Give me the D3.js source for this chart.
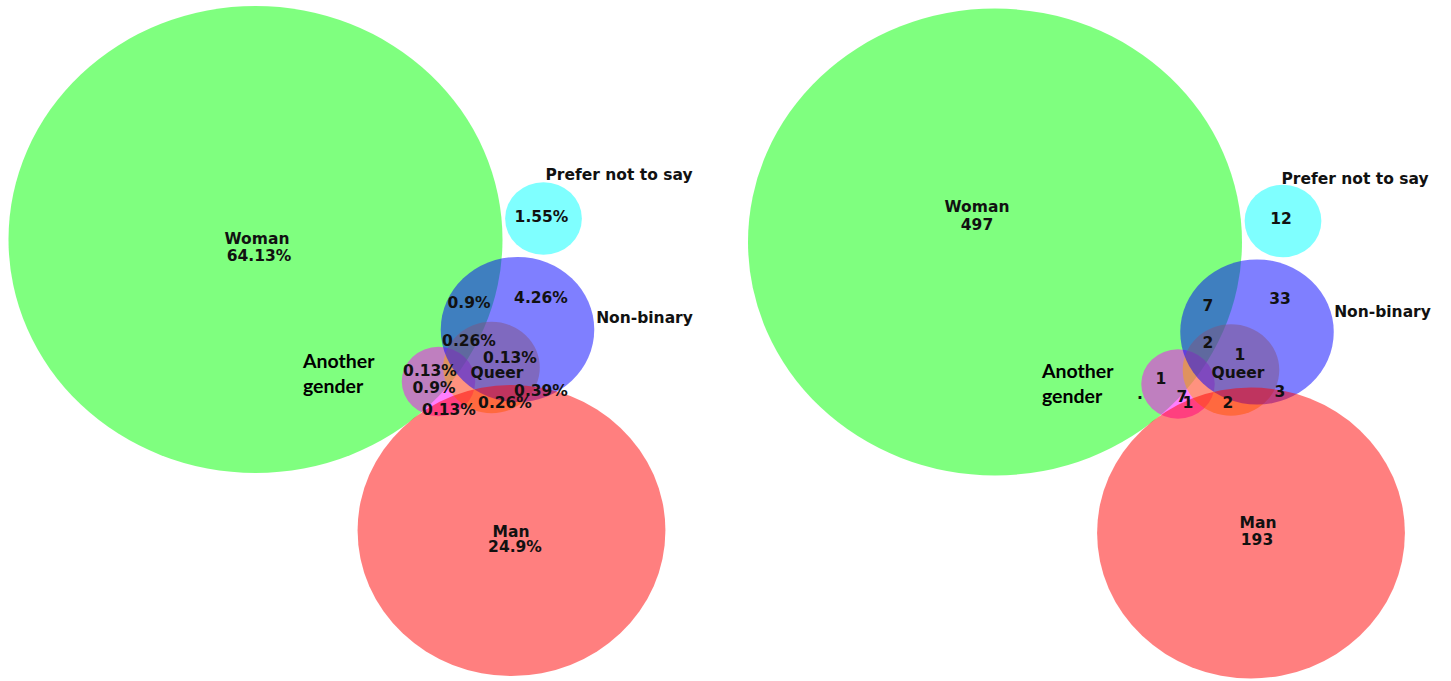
<!DOCTYPE html>
<html>
<head>
<meta charset="utf-8">
<script src="https://cdn.jsdelivr.net/npm/d3@7"></script>
<style>
  body { margin: 0; background: #fff; }
  svg { display: block; }
  .lbl { font-family: "DejaVu Sans", Verdana, sans-serif; font-weight: bold; font-size: 15.5px; fill: #111; }
  .big { font-family: Lato, "Open Sans", sans-serif; font-weight: bold; font-size: 19.5px; fill: #000; }
</style>
</head>
<body>
<svg id="venn" width="1451" height="681"></svg>
<script>
// sets, drawn in this order
var sets = ["Woman", "Another gender", "Queer", "Non-binary", "Man", "Prefer not to say"];
var set_sizes = [497, 11, 19, 48, 193, 12];
var set_colors = ["#00ff00", "#ff00ff", "#ffa500", "#0000ff", "#ff0000", "#00ffff"];
// circle centres, offset from the Woman centre (layout units)
var set_dx = [0, 183, 236, 262, 256, 288];
var set_dy = [0, 142, 128, 90, 291, -21];

// region labels (percent chart / count chart)
var regions = ["Woman", "Man", "Prefer not to say", "Non-binary", "Another gender",
    "Woman+Non-binary", "Woman+Non-binary+Queer", "Non-binary+Queer", "Another+Woman+Queer",
    "Non-binary+Man", "Queer+Man", "Another+Man"];
var region_pct = ["64.13%", "24.9%", "1.55%", "4.26%", "0.13%",
    "0.9%", "0.26%", "0.13%", "0.9%", "0.39%", "0.26%", "0.13%"];
var region_count = ["497", "193", "12", "33", "1",
    "7", "2", "1", "7", "3", "2", "1"];

// label offsets from the Woman centre, per panel
var left_lx = [3.5, 259.5, 286, 285.5, 174.5, 213.5, 213.5, 254.5, 178.5, 285.5, 249.5, 193.5];
var left_ly = [21.5, 312.5, -17.5, 63.5, 136.5, 68.5, 106.5, 123.5, 153.5, 156.5, 168.5, 175.5];
var right_lx = [-18, 262, 286, 285, 166, 213, 213, 245, 187, 285, 233, 193];
var right_ly = [-12, 303, -18, 62, 142, 69, 106, 118, 160, 155, 166, 166];

// set names
var name_sets = ["Woman", "Man", "Prefer not to say", "Non-binary", "Queer"];
var left_nx = [1.5, 255.5, 363.5, 389, 241.5];
var left_ny = [4.5, 297.5, -59.5, 83.5, 138.5];
var right_nx = [-18, 263, 360, 387.5, 243];
var right_ny = [-30, 286, -58, 75, 136];

var svg = d3.select("#venn");
var rscale = d3.scaleSqrt().domain([0, 497]).range([0, 247]);
var squash = 0.945;

function draw_panel(ox, oy, labels, lx, ly, nx, ny, another_pos, extra) {
    var xscale = d3.scaleLinear().domain([0, 1]).range([ox, ox + 1]);
    var yscale = d3.scaleLinear().domain([0, 1]).range([oy, oy + 1]);
    var g = svg.append("g");

    g.selectAll("ellipse")
        .data(sets)
        .enter().append("ellipse")
        .attr("cx", function(d, i) { return xscale(set_dx[i]); })
        .attr("cy", function(d, i) { return yscale(set_dy[i]); })
        .attr("rx", function(d, i) { return rscale(set_sizes[i]); })
        .attr("ry", function(d, i) { return rscale(set_sizes[i]) * squash; })
        .attr("fill", function(d, i) { return set_colors[i]; })
        .attr("fill-opacity", 0.5);

    g.selectAll("text.name")
        .data(name_sets)
        .enter().append("text")
        .attr("class", "lbl name")
        .attr("text-anchor", "middle")
        .attr("x", function(d, i) { return xscale(nx[i]); })
        .attr("y", function(d, i) { return yscale(ny[i]); })
        .text(function(d) { return d; });

    g.selectAll("text.val")
        .data(labels)
        .enter().append("text")
        .attr("class", "lbl val")
        .attr("text-anchor", "middle")
        .attr("x", function(d, i) { return xscale(lx[i]); })
        .attr("y", function(d, i) { return yscale(ly[i]); })
        .text(function(d) { return d; });

    var ag = g.append("text")
        .attr("class", "big")
        .attr("x", xscale(another_pos[0]))
        .attr("y", yscale(another_pos[1]));
    ag.append("tspan").text("Another");
    ag.append("tspan").attr("x", xscale(another_pos[0])).attr("dy", 25).text("gender");

    if (extra) {
        g.append("text")
            .attr("class", "lbl")
            .attr("font-size", 9)
            .attr("text-anchor", "middle")
            .attr("x", xscale(extra[0]))
            .attr("y", yscale(extra[1]))
            .text(".");
    }
}

draw_panel(255.5, 239.5, region_pct, left_lx, left_ly, left_nx, left_ny, [47.5, 128.5], null);
draw_panel(995, 242, region_count, right_lx, right_ly, right_nx, right_ny, [47, 136], [145, 157]);
</script>
</body>
</html>
